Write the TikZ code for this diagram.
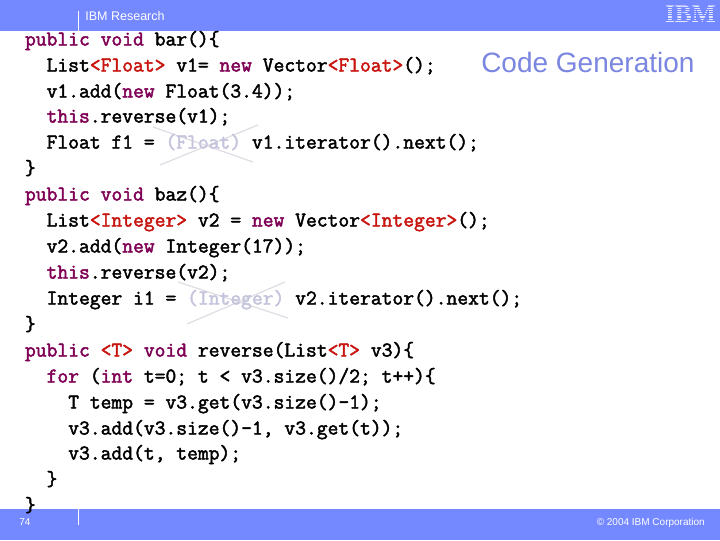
\documentclass[tikz,border=0pt]{standalone}
\usepackage{fontspec}
\setmainfont{Liberation Sans}
\newfontfamily\logofont{Liberation Serif}
\newfontfamily\codefont{Latin Modern Mono}[FakeBold=2.2]
\usetikzlibrary{calc}
\definecolor{band}{HTML}{7488FF}
\definecolor{kw}{HTML}{7F0055}
\definecolor{gen}{HTML}{C8140F}
\definecolor{titlec}{HTML}{7A86E0}
\definecolor{castc}{HTML}{C4C4DC}
\definecolor{crossc}{HTML}{E0DCE4}
\newcommand{\K}[1]{\textcolor{kw}{#1}}
\newcommand{\G}[1]{\textcolor{gen}{#1}}
\newcommand{\C}[1]{\textcolor{castc}{#1}}
\tikzset{
  px/.style={x=0.75pt,y=-0.75pt},
  codeline/.style={anchor=base west,inner sep=0pt,outer sep=0pt,font=\fontsize{15.74}{16}\codefont,text=black},
  bandtext/.style={inner sep=0pt,text=white},
  crossline/.style={draw=crossc,line width=0.9pt},
  sep/.style={draw=white,line width=0.6pt},
  logostripe/.style={draw=band,line width=0.7pt}
}
\begin{document}
\begin{tikzpicture}[px]
\useasboundingbox (0,0) rectangle (720,540);
\fill[white] (0,0) rectangle (720,540);
\fill[band] (0,0) rectangle (720,31);
\fill[band] (0,509) rectangle (720,540);
\coordinate (s1a) at (78,11); \coordinate (s1b) at (78,31);
\draw[sep] (s1a) -- (s1b);
\coordinate (s2a) at (78,509); \coordinate (s2b) at (78,525);
\draw[sep] (s2a) -- (s2b);
\node[bandtext,anchor=base west,font=\fontsize{9.4}{10}\selectfont] (res) at (85,20) {IBM Research};
\node[bandtext,anchor=base west,font=\fontsize{7.5}{9}\selectfont] (pg) at (19,525) {74};
\node[bandtext,anchor=base east,font=\fontsize{7.5}{9}\selectfont] (cp) at (705,525) {© 2004 IBM Corporation};
\node[anchor=base west,inner sep=0pt,text=titlec,font=\fontsize{21}{24}\selectfont] (title) at (481,72) {Code Generation};
% IBM logo
\node[anchor=base east,inner sep=0pt,text=white!80!band,font=\fontsize{19}{20}\logofont\bfseries] (logo) at (716,22) {IBM};
\foreach \yy in {7,9.2,11.4,13.6,15.8,18,20.2}{\draw[logostripe] (664,\yy) -- (718,\yy);}
% crosses
\coordinate (c1a) at (153,127); \coordinate (c1b) at (253,162);
\coordinate (c1c) at (258,125); \coordinate (c1d) at (160,165);
\draw[crossline] (c1a) -- (c1b); \draw[crossline] (c1c) -- (c1d);
\coordinate (c2a) at (178,282); \coordinate (c2b) at (288,318);
\coordinate (c2c) at (285,282); \coordinate (c2d) at (187,324);
\draw[crossline] (c2a) -- (c2b); \draw[crossline] (c2c) -- (c2d);
% code
\node[codeline] (l1) at (25,45.5) {\K{public void} bar()\{};
\node[codeline] (l2) at (25,71.5) {\ \ List\G{<Float>} v1= \K{new} Vector\G{<Float>}();};
\node[codeline] (l3) at (25,97.5) {\ \ v1.add(\K{new} Float(3.4));};
\node[codeline] (l4) at (25,122.5) {\ \ \K{this}.reverse(v1);};
\node[codeline] (l5) at (25,148.5) {\ \ Float f1 = \C{(Float)} v1.iterator().next();};
\node[codeline] (l6) at (25,174.5) {\}};
\node[codeline] (l7) at (25,200.5) {\K{public void} baz()\{};
\node[codeline] (l8) at (25,226.5) {\ \ List\G{<Integer>} v2 = \K{new} Vector\G{<Integer>}();};
\node[codeline] (l9) at (25,252.5) {\ \ v2.add(\K{new} Integer(17));};
\node[codeline] (l10) at (25,278.5) {\ \ \K{this}.reverse(v2);};
\node[codeline] (l11) at (25,304.5) {\ \ Integer i1 = \C{(Integer)} v2.iterator().next();};
\node[codeline] (l12) at (25,330.5) {\}};
\node[codeline] (l13) at (25,356.5) {\K{public} \G{<T>} \K{void} reverse(List\G{<T>} v3)\{};
\node[codeline] (l14) at (25,382.5) {\ \ \K{for} (\K{int} t=0; t < v3.size()/2; t++)\{};
\node[codeline] (l15) at (25,408.5) {\ \ \ \ T temp = v3.get(v3.size()-1);};
\node[codeline] (l16) at (25,434.5) {\ \ \ \ v3.add(v3.size()-1, v3.get(t));};
\node[codeline] (l17) at (25,459.5) {\ \ \ \ v3.add(t, temp);};
\node[codeline] (l18) at (25,485.5) {\ \ \}};
\node[codeline] (l19) at (25,511.5) {\}};
\end{tikzpicture}
\end{document}
